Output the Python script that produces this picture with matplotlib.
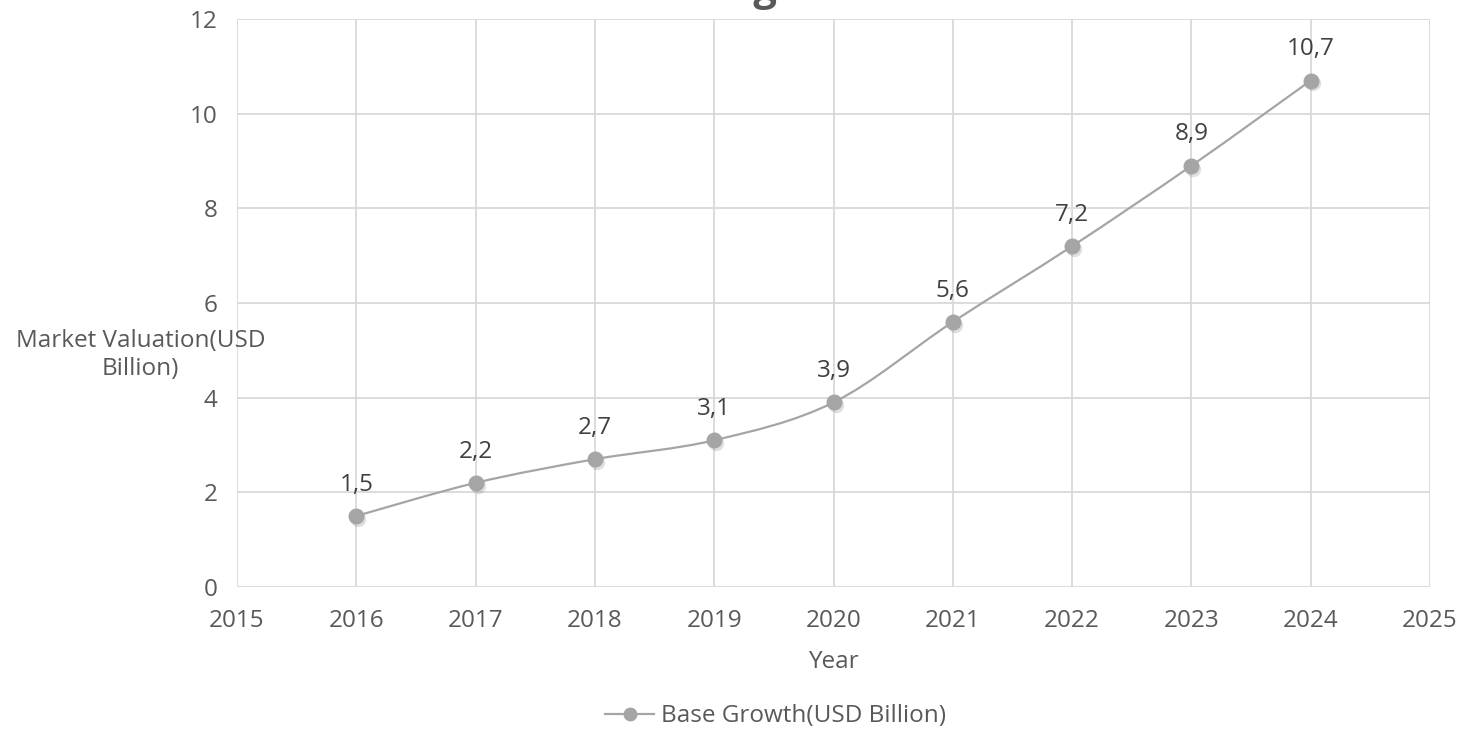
import matplotlib.pyplot as plt
import matplotlib.transforms as mtransforms
from matplotlib.path import Path
from matplotlib.patches import PathPatch
from matplotlib.lines import Line2D

plt.rcParams['font.family'] = ['Open Sans', 'DejaVu Sans']

# data
years = [2016, 2017, 2018, 2019, 2020, 2021, 2022, 2023, 2024]
values = [1.5, 2.2, 2.7, 3.1, 3.9, 5.6, 7.2, 8.9, 10.7]
labels = ["1,5", "2,2", "2,7", "3,1", "3,9", "5,6", "7,2", "8,9", "10,7"]
series_name = "Base Growth(USD Billion)"

grey = "#A5A5A5"
txt = "#595959"
grid = "#D9D9D9"
fs = 17.5

fig = plt.figure(figsize=(14.61, 7.31), dpi=100)
ax = fig.add_axes([0.1622, 0.197, 0.8166, 0.777])

ax.set_xlim(2015, 2025)
ax.set_ylim(0, 12)
ax.set_xticks(range(2015, 2026))
ax.set_yticks(range(0, 13, 2))
ax.grid(True, color=grid, linewidth=1.3)
ax.set_axisbelow(True)
for s in ax.spines.values():
    s.set_visible(False)
ax.tick_params(length=0, labelsize=fs, colors=txt)
ax.tick_params(axis="x", pad=16)
ax.tick_params(axis="y", pad=14)

# smoothed line (Excel style) as bezier path through the points
verts = [(years[0], values[0])]
codes = [Path.MOVETO]
n = len(years)
for i in range(n - 1):
    x0, y0 = years[max(i - 1, 0)], values[max(i - 1, 0)]
    x1, y1 = years[i], values[i]
    x2, y2 = years[i + 1], values[i + 1]
    x3, y3 = years[min(i + 2, n - 1)], values[min(i + 2, n - 1)]
    t = 1 / 6
    c1 = (x1 + (x2 - x0) * t, y1 + (y2 - y0) * t)
    c2 = (x2 - (x3 - x1) * t, y2 - (y3 - y1) * t)
    verts += [c1, c2, (x2, y2)]
    codes += [Path.CURVE4] * 3
ax.add_patch(PathPatch(Path(verts, codes), facecolor="none", edgecolor=grey, lw=1.6, zorder=3))

# marker shadow
shadow = mtransforms.offset_copy(ax.transData, fig=fig, x=1.5, y=-2, units="points")
ax.plot(years, values, "o", ms=11, color="#808080", alpha=0.25, mec="none", transform=shadow, zorder=3)
ax.plot(years, values, "o", ms=10.5, color=grey, mec=grey, zorder=4)

for x, y, l in zip(years, values, labels):
    ax.annotate(l, (x, y), xytext=(0, 22.5), textcoords="offset points",
                ha="center", va="center", fontsize=fs, color="#404040")

ax.set_xlabel("Year", fontsize=fs, color=txt, labelpad=12)
fig.text(0.096, 0.514, "Market Valuation(USD\nBillion)", ha="center", va="center",
         fontsize=fs, color=txt, linespacing=1.2)

# title (mostly above the visible area)
fig.text(0.532, 1.0, "Market Valuation Rising", ha="right", va="baseline",
         fontsize=30, fontweight="bold", color=txt)

h = Line2D([], [], color=grey, lw=1.6, marker="o", ms=9)
fig.legend([h], [series_name], loc="center", bbox_to_anchor=(0.531, 0.02),
           frameon=False, fontsize=fs, labelcolor=txt, handlelength=2.0, handletextpad=0.3,
           borderpad=0.2)

fig.savefig("out.png", dpi=100)
